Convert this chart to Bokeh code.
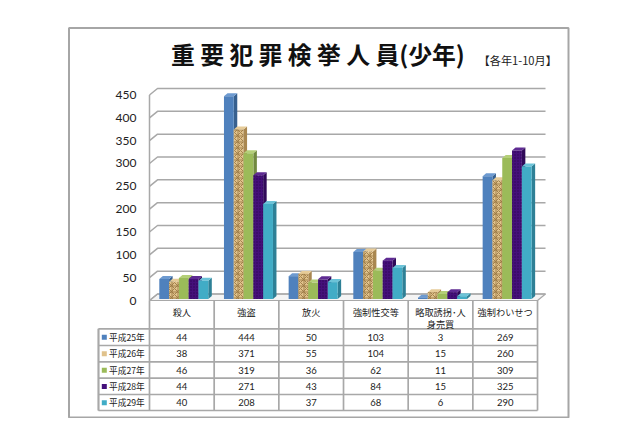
from bokeh.plotting import figure
from bokeh.models import Range1d, FixedTicker
from bokeh.core.properties import value
from bokeh.embed import file_html
from bokeh.resources import INLINE

title = "重 要 犯 罪 検 挙 人 員(少年)"
subtitle = "【各年1-10月】"
categories = ["殺人", "強盗", "放火", "強制性交等", "略取誘拐･人\n身売買", "強制わいせつ"]
series_names = ["平成25年", "平成26年", "平成27年", "平成28年", "平成29年"]
h25 = [44, 444, 50, 103, 3, 269]
h26 = [38, 371, 55, 104, 15, 260]
h27 = [46, 319, 36, 62, 11, 309]
h28 = [44, 271, 43, 84, 15, 325]
h29 = [40, 208, 37, 68, 6, 290]
series = [h25, h26, h27, h28, h29]
y_ticks = [0, 50, 100, 150, 200, 250, 300, 350, 400, 450]

front = ["#4f81bd", "#e0c28c", "#9bbb59", "#45107a", "#41acc6"]
side = ["#37608f", "#a98750", "#71893f", "#300a58", "#2e8096"]
top = ["#6d9ad0", "#e6cb98", "#b4cf78", "#5e2a92", "#6cc3d8"]
hatch = [None, "#9c7a45", None, "#2c0650", None]
GRID = "#a8a8a8"
TXT = "#222222"
CJK = value("Noto Sans CJK JP")

# scale: one category is 64.67 px wide, one unit of value is 0.4567 px tall
CAT = 64.67
VAL = 0.4567
X0, Y0 = 149.0, 300.0  # page position of the origin of the front plane
W, H = 600, 418


def px(x):
    return (x - X0) / CAT


def py(y):
    return (Y0 - y) / VAL


p = figure(width=W, height=H, output_backend="svg", toolbar_location=None,
           x_range=Range1d(px(0), px(W)), y_range=Range1d(py(H), py(0)),
           min_border=0, min_border_left=0, min_border_right=0,
           min_border_top=0, min_border_bottom=0, outline_line_color=None,
           background_fill_color="white", border_fill_color="white")
p.xaxis.visible = False
p.xgrid.visible = False
p.ygrid.visible = False
ax = p.yaxis[0]
ax.fixed_location = 0
ax.ticker = FixedTicker(ticks=y_ticks)
ax.axis_line_color = None
ax.major_tick_line_color = None
ax.minor_tick_line_color = None
ax.major_label_standoff = 7
ax.major_label_text_font = "Lato"
ax.major_label_text_font_size = "12px"
ax.major_label_text_color = "#222222"

# outer frame
p.quad(left=px(68.5), right=px(568), bottom=py(417), top=py(27.5),
       fill_color="white", line_color="#a6a6a6", line_width=2)

# 3D walls
ncat = len(categories)
dxw, dyw = 8.0 / CAT, 6.5 / VAL
p.patch([0, ncat, ncat + dxw, dxw], [0, 0, dyw, dyw], fill_color="#f4f4f4", line_color=GRID, line_width=1.2)
for t in y_ticks:
    p.line([0, dxw, ncat + dxw], [t, t + dyw, t + dyw], line_color=GRID, line_width=1.5)
p.line([0, 0], [0, y_ticks[-1]], line_color=GRID, line_width=1.5)

# 3D bars
barw = 9.8 / CAT
dx, dy = 3.5 / CAT, 3.0 / VAL
base = 1.5 / VAL
for c in range(ncat):
    for s, vals in enumerate(series):
        l = c + barw * (s + 1)
        r = l + barw
        v = vals[c] + base
        p.patch([r, r + dx, r + dx, r], [base, base + dy, v + dy, v], fill_color=side[s], line_color=None)
        p.patch([l, r, r + dx, l + dx], [v, v, v + dy, v + dy], fill_color=top[s], line_color=None)
        kw = {}
        if hatch[s]:
            kw = dict(hatch_pattern="criss_cross" if s == 1 else "dot", hatch_color=hatch[s],
                      hatch_scale=6 if s == 1 else 3, hatch_weight=1, hatch_alpha=0.9)
        p.quad(left=l, right=r, bottom=base, top=v, fill_color=front[s], line_color=None, **kw)

# data table
row_edges = [328.3, 345, 361.3, 377.7, 394, 410]
leg_left = px(98)
p.segment(x0=[i for i in range(ncat + 1)], x1=[i for i in range(ncat + 1)],
          y0=[py(300)] * (ncat + 1), y1=[py(row_edges[-1])] * (ncat + 1),
          line_color=GRID, line_width=1.7)
p.segment(x0=[leg_left] * 2, x1=[leg_left] * 2, y0=[py(row_edges[0])] * 2, y1=[py(row_edges[-1])] * 2,
          line_color=GRID, line_width=1.7)
p.segment(x0=[leg_left] * len(row_edges), x1=[ncat] * len(row_edges),
          y0=[py(y) for y in row_edges], y1=[py(y) for y in row_edges],
          line_color=GRID, line_width=1.7)

for c, name in enumerate(categories):
    lines = name.split("\n")
    ys = [311.5] if len(lines) == 1 else [311.5, 323.5]
    p.text(x=[c + 0.5] * len(lines), y=[py(y) for y in ys], text=lines, text_font=CJK,
           text_font_size="9.2px", text_align="center", text_baseline="middle", text_color=TXT)

for s, vals in enumerate(series):
    yc = (row_edges[s] + row_edges[s + 1]) / 2 + 0.2
    p.text(x=[c + 0.5 for c in range(ncat)], y=[py(yc)] * ncat, text=[str(v) for v in vals],
           text_font=value("Lato"), text_font_size="9.5px", text_align="center",
           text_baseline="middle", text_color=TXT)
    p.quad(left=[px(101.3)], right=[px(106.3)], bottom=[py(yc + 2.5)], top=[py(yc - 2.5)],
           fill_color=front[s], line_color=None)
    p.text(x=[px(108.5)], y=[py(yc)], text=[series_names[s]], text_font=CJK, text_font_size="8.7px",
           text_align="left", text_baseline="middle", text_color=TXT)

# titles
p.text(x=[px(170.5)], y=[py(53)], text=[title], text_font=CJK, text_font_size="23.8px",
       text_font_style="bold", text_align="left", text_baseline="middle", text_color="#111111")
p.text(x=[px(478)], y=[py(59)], text=[subtitle], text_font=CJK, text_font_size="11.2px",
       text_align="left", text_baseline="middle", text_color="#222222")

open("out.html", "w").write(file_html(p, INLINE))
